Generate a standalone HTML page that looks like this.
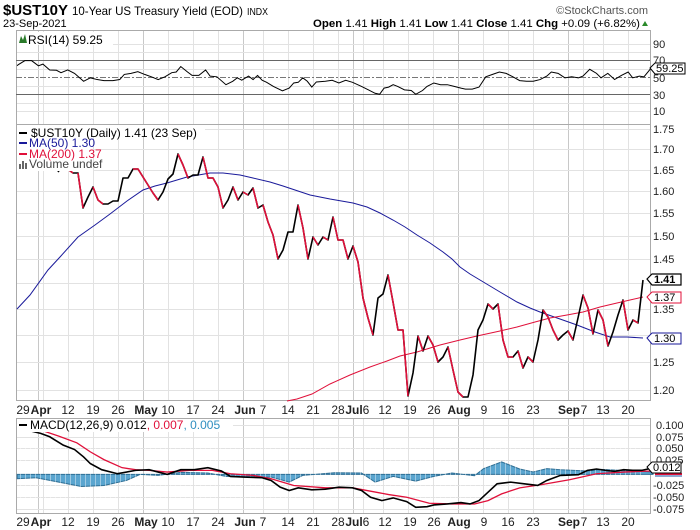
<!DOCTYPE html>
<html><head><meta charset="utf-8"><style>
html,body{margin:0;padding:0;background:#fff;}
svg{display:block;font-family:"Liberation Sans",sans-serif;}
</style></head><body>
<svg width="700" height="530" viewBox="0 0 700 530" xmlns="http://www.w3.org/2000/svg">
<rect width="700" height="530" fill="#fff"/>
<!-- header -->
<text x="3" y="15" font-size="15" font-weight="bold" textLength="65" lengthAdjust="spacingAndGlyphs">$UST10Y</text>
<text x="72" y="15" font-size="12" textLength="171" lengthAdjust="spacingAndGlyphs">10-Year US Treasury Yield (EOD)</text>
<text x="247" y="15" font-size="10" textLength="21" lengthAdjust="spacingAndGlyphs">INDX</text>
<text x="648" y="14" font-size="11" fill="#555" text-anchor="end">©StockCharts.com</text>
<text x="3" y="27" font-size="11">23-Sep-2021</text>
<text x="313" y="27" font-size="11" textLength="327" lengthAdjust="spacingAndGlyphs"><tspan font-weight="bold">Open</tspan> 1.41 <tspan font-weight="bold">High</tspan> 1.41 <tspan font-weight="bold">Low</tspan> 1.41 <tspan font-weight="bold">Close</tspan> 1.41 <tspan font-weight="bold">Chg</tspan> +0.09 (+6.82%)</text>
<polygon points="642,26 648,26 645,21" fill="#2a8a2a"/>

<!-- vertical gridlines -->
<g stroke="#e2e2e2" stroke-width="1">
<path d="M43.5 30V400M68.5 30V400M93.5 30V400M118.5 30V400M168.5 30V400M193.5 30V400M218.5 30V400M263.5 30V400M288.5 30V400M313.5 30V400M338.5 30V400M363.5 30V400M383.5 30V400M408.5 30V400M433.5 30V400M483.5 30V400M508.5 30V400M533.5 30V400M583.5 30V400M603.5 30V400M628.5 30V400"/>
<path d="M43.5 418V513M68.5 418V513M93.5 418V513M118.5 418V513M168.5 418V513M193.5 418V513M218.5 418V513M263.5 418V513M288.5 418V513M313.5 418V513M338.5 418V513M363.5 418V513M383.5 418V513M408.5 418V513M433.5 418V513M483.5 418V513M508.5 418V513M533.5 418V513M583.5 418V513M603.5 418V513M628.5 418V513"/>
</g>
<g stroke="#c8c8c8" stroke-width="1">
<path d="M38.5 30V400M143.5 30V400M243.5 30V400M353.5 30V400M458.5 30V400M568.5 30V400"/>
<path d="M38.5 418V513M143.5 418V513M243.5 418V513M353.5 418V513M458.5 418V513M568.5 418V513"/>
</g>
<!-- horizontal gridlines -->
<g stroke="#e2e2e2" stroke-width="1">
<path d="M16 44.5H650M16 52.5H650M16 69.5H650M16 86.5H650M16 103.5H650M16 111.5H650"/>
<path d="M16 129.5H650M16 149.5H650M16 170.5H650M16 191.5H650M16 213.5H650M16 236.5H650M16 259.5H650M16 283.5H650M16 309.5H650M16 335.5H650M16 362.5H650M16 390.5H650"/>
<path d="M16 425.5H650M16 437.5H650M16 448.5H650M16 460.5H650M16 485.5H650M16 497.5H650M16 509.5H650"/>
</g>

<!-- panel borders -->
<g fill="none" stroke="#aaa" stroke-width="1">
<rect x="16.5" y="30.5" width="634" height="94"/>
<rect x="16.5" y="124.5" width="634" height="276"/>
<rect x="16.5" y="418.5" width="634" height="95"/>
</g>

<!-- RSI -->
<line x1="16" y1="60.5" x2="650" y2="60.5" stroke="#666"/>
<line x1="16" y1="94.5" x2="650" y2="94.5" stroke="#666"/>
<line x1="16" y1="77.5" x2="650" y2="77.5" stroke="#777" stroke-dasharray="6,2,2,2"/>
<g transform="translate(0,60) scale(0.4519,0.343) translate(0,-183)">
<polyline fill="none" stroke="#000" stroke-width="1" vector-effect="non-scaling-stroke" points="38,200 40,197 55,185 70,185 85,200 95,195 110,212 125,213 135,220 150,212 165,222 185,245 200,235 215,240 230,243 250,243 265,240 275,225 290,222 305,217 320,225 335,232 350,240 365,232 380,220 390,218 400,202 415,218 425,228 440,228 455,212 465,230 480,232 500,255 515,245 525,235 535,242 550,230 560,240 570,228 580,242 590,248 605,260 625,273 640,265 650,250 660,248 670,235 680,245 690,262 700,247 720,245 735,242 750,250 765,242 780,248 800,260 815,270 830,280 840,283 850,265 860,262 870,255 880,260 895,270 910,272 920,283 935,272 945,260 960,250 975,255 990,255 1005,260 1020,265 1030,268 1045,268 1060,262 1075,232 1090,225 1105,218 1120,222 1135,232 1150,243 1165,245 1180,245 1195,240 1210,230 1220,218 1235,222 1250,235 1265,232 1280,235 1290,230 1305,210 1320,222 1330,235 1345,222 1360,240 1375,228 1390,218 1400,235 1415,230 1425,232 1440,208"/>
</g>
<rect x="17" y="32" width="96" height="13" fill="#fff"/>
<path d="M19 43 L21 36 L23 40 L25 34 L27 43Z" fill="#2a7a2a"/>
<text x="28" y="44" font-size="12">RSI(14) 59.25</text>
<g font-size="11" fill="#222">
<text x="653" y="48">90</text><text x="653" y="64">70</text><text x="653" y="82">50</text><text x="653" y="99">30</text><text x="653" y="115">10</text>
</g>
<path d="M650 68 L655 63 H685 V74 H655Z" fill="#fff" stroke="#000"/>
<text x="656" y="72" font-size="11">59.25</text>

<!-- price -->
<polyline fill="none" stroke="#1a1a9a" stroke-width="1" points="17,309 30,295 48,270 60,257 78,237 95,225 110,214 127,201 143,190 155,186 167,183 187,177 210,173 223,173 240,175 253,178 270,182 283,186 295,190 310,195 330,199 353,203 367,207 380,213 393,220 405,227 417,235 430,243 443,252 452,259 460,267 470,274 480,280 500,292 517,302 530,308 540,312 560,319 577,325 595,332 610,337 627,337 643,338"/>
<polyline fill="none" stroke="#e0103a" stroke-width="1" points="287,401 297,399 312,394 330,384 350,375 370,367 387,361 400,356 417,352 440,345 460,340 477,336 500,331 517,327 535,322 550,318 567,315 583,312 600,307 617,303 630,300 643,297"/>
<polyline fill="none" stroke="#000" stroke-width="1.6" stroke-linejoin="round" points="58,172 60,169 66,168 73,173 78,173 83,208 88,197 93,187 98,200 103,204 108,204 113,201 118,201 123,178 128,178 133,169 138,169 143,177 148,185 153,193 158,200 163,192 168,179 173,174 178,154 183,165 188,178 193,175 198,175 203,157 208,178 213,178 218,187 223,208 228,200 233,187 238,200 243,192 248,195 253,188 258,208 263,205 268,222 273,235 278,259 283,250 288,232 293,232 298,205 303,228 308,259 313,237 318,245 323,237 328,240 333,217 338,240 343,240 348,259 353,246 358,262 363,298 368,318 373,335 378,298 383,294 388,275 393,302 398,330 403,330 408,396 413,373 418,336 423,351 428,336 433,345 438,362 443,357 448,347 453,370 458,392 463,397 468,397 473,375 478,330 483,320 488,304 493,309 498,304 503,340 508,357 513,357 518,351 523,368 528,357 533,362 538,340 543,310 548,317 553,330 558,340 563,335 568,331 573,340 578,318 583,295 588,308 593,334 598,310 603,320 608,346 613,332 618,315 623,300 628,330 633,320 638,323 643,280"/>
<path fill="none" stroke="#e0103a" stroke-width="1.6" stroke-linejoin="round" d="M66 168L73 173M78 173L83 208M93 187L98 200L103 204M133 169L138 169L143 177L148 185L153 193L158 200M178 154L183 165L188 178M203 157L208 178L213 178L218 187L223 208M233 187L238 200M243 192L248 195M253 188L258 208M263 205L268 222L273 235L278 259M298 205L303 228L308 259M313 237L318 245M323 237L328 240M333 217L338 240L343 240L348 259M353 246L358 262L363 298L368 318L373 335M388 275L393 302L398 330L403 330L408 396M418 336L423 351M428 336L433 345L438 362M448 347L453 370L458 392L463 397M488 304L493 309M498 304L503 340L508 357L513 357M518 351L523 368M528 357L533 362M543 310L548 317L553 330L558 340M568 331L573 340M583 295L588 308L593 334M598 310L603 320L608 346M623 300L628 330M633 320L638 323"/>
<!-- legend -->
<rect x="17" y="125" width="188" height="12" fill="#fff"/>
<rect x="17" y="137" width="76" height="34" fill="#fff"/>
<g font-size="12">
<line x1="19" y1="133" x2="27" y2="133" stroke="#000" stroke-width="2"/>
<text x="31" y="137">$UST10Y (Daily) 1.41 (23 Sep)</text>
<line x1="19" y1="143" x2="27" y2="143" stroke="#1a1a9a" stroke-width="2"/>
<text x="29" y="147" fill="#1a1a9a">MA(50) 1.30</text>
<line x1="19" y1="154" x2="27" y2="154" stroke="#e0103a" stroke-width="2"/>
<text x="29" y="158" fill="#e0103a">MA(200) 1.37</text>
<path d="M19 169V164H21V169ZM22 169V161H24V169ZM25 169V163H27V169Z" fill="#666"/>
<text x="29" y="168" fill="#444">Volume undef</text>
</g>
<g font-size="11" fill="#222">
<text x="653" y="133">1.75</text><text x="653" y="153">1.70</text><text x="653" y="174">1.65</text><text x="653" y="195">1.60</text><text x="653" y="217">1.55</text><text x="653" y="240">1.50</text><text x="653" y="263">1.45</text><text x="653" y="313">1.35</text><text x="653" y="366">1.25</text><text x="653" y="394">1.20</text>
</g>
<path d="M647 279 L652 274 H681 V285 H652Z" fill="#fff" stroke="#000" stroke-width="1.2"/>
<text x="654" y="283" font-size="11" font-weight="bold">1.41</text>
<path d="M647 297 L652 292 H681 V303 H652Z" fill="#fff" stroke="#e0103a"/>
<text x="654" y="301" font-size="11">1.37</text>
<path d="M647 338 L652 333 H681 V344 H652Z" fill="#fff" stroke="#1a1a9a"/>
<text x="654" y="342" font-size="11">1.30</text>

<!-- date labels -->
<g font-size="12" text-anchor="middle" fill="#222">
<text x="23" y="414">29</text><text x="41" y="414" font-weight="bold">Apr</text><text x="68" y="414">12</text><text x="93" y="414">19</text><text x="118" y="414">26</text><text x="146" y="414" font-weight="bold">May</text><text x="168" y="414">10</text><text x="193" y="414">17</text><text x="218" y="414">24</text><text x="245" y="414" font-weight="bold">Jun</text><text x="263" y="414">7</text><text x="288" y="414">14</text><text x="313" y="414">21</text><text x="338" y="414">28</text><text x="354" y="414" font-weight="bold">Jul</text><text x="366" y="414">6</text><text x="385" y="414">12</text><text x="410" y="414">19</text><text x="434" y="414">26</text><text x="459" y="414" font-weight="bold">Aug</text><text x="484" y="414">9</text><text x="508" y="414">16</text><text x="533" y="414">23</text><text x="569" y="414" font-weight="bold">Sep</text><text x="584" y="414">7</text><text x="603" y="414">13</text><text x="628" y="414">20</text>
</g>
<g font-size="12" text-anchor="middle" fill="#222">
<text x="23" y="526">29</text><text x="41" y="526" font-weight="bold">Apr</text><text x="68" y="526">12</text><text x="93" y="526">19</text><text x="118" y="526">26</text><text x="146" y="526" font-weight="bold">May</text><text x="168" y="526">10</text><text x="193" y="526">17</text><text x="218" y="526">24</text><text x="245" y="526" font-weight="bold">Jun</text><text x="263" y="526">7</text><text x="288" y="526">14</text><text x="313" y="526">21</text><text x="338" y="526">28</text><text x="354" y="526" font-weight="bold">Jul</text><text x="366" y="526">6</text><text x="385" y="526">12</text><text x="410" y="526">19</text><text x="434" y="526">26</text><text x="459" y="526" font-weight="bold">Aug</text><text x="484" y="526">9</text><text x="508" y="526">16</text><text x="533" y="526">23</text><text x="569" y="526" font-weight="bold">Sep</text><text x="584" y="526">7</text><text x="603" y="526">13</text><text x="628" y="526">20</text>
</g>

<!-- MACD -->
<g transform="translate(0,425) scale(0.4519,0.336) translate(0,-165)">
<polygon fill="#5aa5cf" stroke="#2f6f95" stroke-width="1" vector-effect="non-scaling-stroke" points="38,312 38,325 80,322 130,335 180,348 230,345 280,330 310,312 350,315 400,306 460,308 500,318 540,320 600,320 640,335 670,315 740,307 800,308 830,335 870,318 920,332 960,318 1000,308 1050,316 1070,295 1110,275 1150,296 1180,305 1210,295 1240,298 1300,302 1330,297 1400,302 1445,305 1445,312"/>
</g>
<path d="M20.5 440V500M25.5 440V500M30.5 440V500M35.5 440V500M40.5 440V500M45.5 440V500M50.5 440V500M55.5 440V500M60.5 440V500M65.5 440V500M70.5 440V500M75.5 440V500M80.5 440V500M85.5 440V500M90.5 440V500M95.5 440V500M100.5 440V500M105.5 440V500M110.5 440V500M115.5 440V500M120.5 440V500M125.5 440V500M130.5 440V500M135.5 440V500M140.5 440V500M145.5 440V500M150.5 440V500M155.5 440V500M160.5 440V500M165.5 440V500M170.5 440V500M175.5 440V500M180.5 440V500M185.5 440V500M190.5 440V500M195.5 440V500M200.5 440V500M205.5 440V500M210.5 440V500M215.5 440V500M220.5 440V500M225.5 440V500M230.5 440V500M235.5 440V500M240.5 440V500M245.5 440V500M250.5 440V500M255.5 440V500M260.5 440V500M265.5 440V500M270.5 440V500M275.5 440V500M280.5 440V500M285.5 440V500M290.5 440V500M295.5 440V500M300.5 440V500M305.5 440V500M310.5 440V500M315.5 440V500M320.5 440V500M325.5 440V500M330.5 440V500M335.5 440V500M340.5 440V500M345.5 440V500M350.5 440V500M355.5 440V500M360.5 440V500M365.5 440V500M370.5 440V500M375.5 440V500M380.5 440V500M385.5 440V500M390.5 440V500M395.5 440V500M400.5 440V500M405.5 440V500M410.5 440V500M415.5 440V500M420.5 440V500M425.5 440V500M430.5 440V500M435.5 440V500M440.5 440V500M445.5 440V500M450.5 440V500M455.5 440V500M460.5 440V500M465.5 440V500M470.5 440V500M475.5 440V500M480.5 440V500M485.5 440V500M490.5 440V500M495.5 440V500M500.5 440V500M505.5 440V500M510.5 440V500M515.5 440V500M520.5 440V500M525.5 440V500M530.5 440V500M535.5 440V500M540.5 440V500M545.5 440V500M550.5 440V500M555.5 440V500M560.5 440V500M565.5 440V500M570.5 440V500M575.5 440V500M580.5 440V500M585.5 440V500M590.5 440V500M595.5 440V500M600.5 440V500M605.5 440V500M610.5 440V500M615.5 440V500M620.5 440V500M625.5 440V500M630.5 440V500M635.5 440V500M640.5 440V500" stroke="#fff" stroke-width="0.6" opacity="0.7"/>
<g transform="translate(0,425) scale(0.4519,0.336) translate(0,-165)">
<polyline fill="none" stroke="#e0103a" stroke-width="1.3" vector-effect="non-scaling-stroke" points="38,180 90,180 130,198 170,218 200,245 230,268 270,292 300,298 330,300 370,305 420,300 470,300 510,310 560,315 600,325 650,345 720,352 780,352 820,362 860,372 900,380 950,398 1000,400 1050,400 1080,390 1110,370 1150,352 1200,342 1260,328 1320,310 1380,305 1440,302"/>
<polyline fill="none" stroke="#000" stroke-width="1.6" vector-effect="non-scaling-stroke" points="38,180 60,180 90,190 110,200 140,225 165,238 185,260 200,280 225,298 260,310 300,300 330,298 370,312 400,298 430,298 460,292 490,302 510,318 540,320 580,322 600,330 620,350 640,360 660,352 690,358 720,356 750,350 780,352 800,360 820,380 845,390 870,382 900,393 920,410 945,408 960,403 990,400 1020,396 1040,400 1060,390 1080,365 1100,340 1130,335 1160,340 1190,345 1210,330 1240,315 1280,313 1300,300 1320,296 1340,300 1360,303 1380,298 1400,300 1420,300 1440,294"/>
</g>
<rect x="17" y="419" width="216" height="13" fill="#fff"/>
<line x1="19" y1="425" x2="27" y2="425" stroke="#000" stroke-width="2"/>
<text x="30" y="429" font-size="12">MACD(12,26,9) 0.012<tspan fill="#e0103a">, 0.007</tspan><tspan fill="#2f8fc0">, 0.005</tspan></text>
<g font-size="11" fill="#222">
<text x="656" y="429">0.100</text><text x="656" y="441">0.075</text><text x="656" y="452">0.050</text><text x="656" y="464">0.025</text><text x="653" y="489">-0.025</text><text x="653" y="501">-0.050</text><text x="653" y="513">-0.075</text>
</g>
<line x1="655" y1="474" x2="682" y2="474" stroke="#e0103a" stroke-width="2"/>
<line x1="655" y1="476" x2="682" y2="476" stroke="#1a4fa0" stroke-width="1"/>
<path d="M647 467 L652 462 H681 V473 H652Z" fill="#fff" stroke="#000"/>
<text x="653" y="471" font-size="11">0.012</text>
</svg>
</body></html>
